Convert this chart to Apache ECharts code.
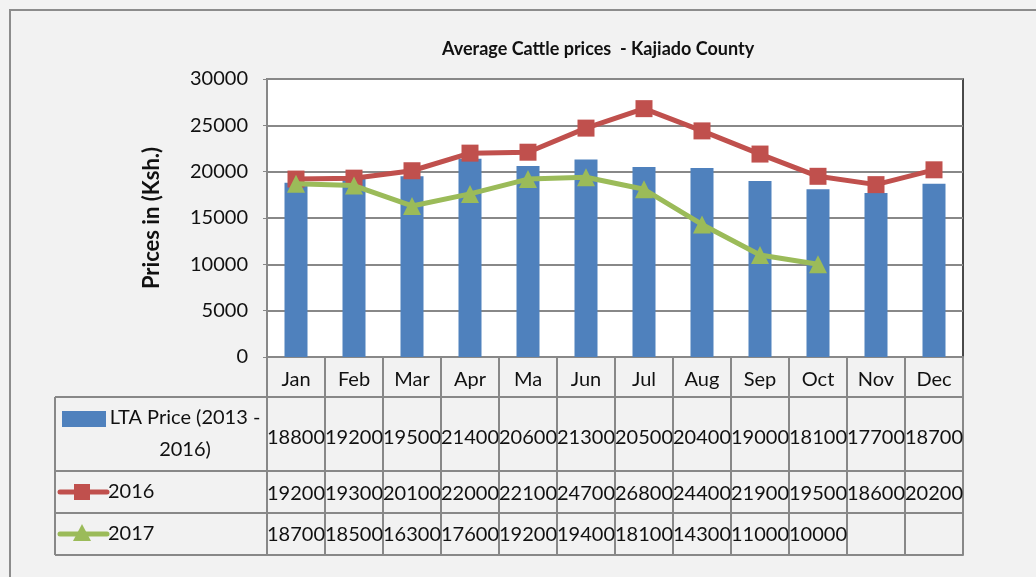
<!DOCTYPE html>
<html>
<head>
<meta charset="utf-8">
<script src="https://cdn.jsdelivr.net/npm/echarts@6/dist/echarts.min.js"></script>
<style>
  html, body { margin: 0; padding: 0; background: #fff; }
  #chart { width: 1036px; height: 577px; }
</style>
</head>
<body>
<div id="chart"></div>
<script>
const months = ['Jan', 'Feb', 'Mar', 'Apr', 'Ma', 'Jun', 'Jul', 'Aug', 'Sep', 'Oct', 'Nov', 'Dec'];
const ltaPrice = [18800, 19200, 19500, 21400, 20600, 21300, 20500, 20400, 19000, 18100, 17700, 18700];
const price2016 = [19200, 19300, 20100, 22000, 22100, 24700, 26800, 24400, 21900, 19500, 18600, 20200];
const price2017 = [18700, 18500, 16300, 17600, 19200, 19400, 18100, 14300, 11000, 10000, null, null];
const seriesNames = ['LTA Price (2013 -\n2016)', '2016', '2017'];

const FONT = 'Lato';
const GRID_LINE = '#888888';
const colors = ['#4f81bd', '#c0504d', '#9bbb59'];

const gridLeft = 267, gridTop = 79, gridW = 696, gridH = 278;
const gridBottom = gridTop + gridH;

// table rows below the plot: offset from plot bottom, row height, label margin
const headerH = 40;
const rows = [
  { values: ltaPrice, offset: 40, height: 74, margin: 31 },
  { values: price2016, offset: 114, height: 42, margin: 13 },
  { values: price2017, offset: 156, height: 42, margin: 12 }
];
const tableBottom = gridBottom + 198;
const tableLeft = 55;

function cellText(v) { return v == null ? '' : String(v); }

const xAxes = [{
  type: 'category',
  data: months,
  gridIndex: 0,
  axisLine: { show: true, lineStyle: { color: GRID_LINE, width: 2 } },
  axisTick: { show: true, alignWithLabel: false, interval: 0, length: headerH, lineStyle: { color: GRID_LINE, width: 2 } },
  axisLabel: { interval: 0, fontFamily: FONT, fontSize: 20, color: '#111', margin: 13 }
}];
rows.forEach(r => {
  xAxes.push({
    type: 'category',
    data: r.values.map(cellText),
    gridIndex: 0,
    position: 'bottom',
    offset: r.offset,
    axisLine: { show: true, lineStyle: { color: GRID_LINE, width: 2 } },
    axisTick: { show: true, alignWithLabel: false, interval: 0, length: r.height, lineStyle: { color: GRID_LINE, width: 2 } },
    axisLabel: { interval: 0, fontFamily: FONT, fontSize: 20, color: '#111', margin: r.margin }
  });
});
xAxes.push({
  type: 'category',
  data: months,
  gridIndex: 0,
  position: 'bottom',
  offset: 198,
  axisLine: { show: true, lineStyle: { color: GRID_LINE, width: 2 } },
  axisTick: { show: false },
  axisLabel: { show: false }
});

// left part of the data table (legend keys + row names)
const rowTops = [gridBottom + headerH].concat(rows.map(r => gridBottom + r.offset + r.height));
const graphics = [
  { type: 'rect', shape: { x: 10, y: 10, width: 1100, height: 700 }, style: { fill: null, stroke: '#8c8c8c', lineWidth: 2 }, z: -1 },
  { type: 'line', shape: { x1: tableLeft, y1: rowTops[0], x2: tableLeft, y2: tableBottom }, style: { stroke: GRID_LINE, lineWidth: 2 } }
];
rowTops.forEach(y => {
  graphics.push({ type: 'line', shape: { x1: tableLeft, y1: y, x2: gridLeft, y2: y }, style: { stroke: GRID_LINE, lineWidth: 2 } });
});
const rowMid = i => (rowTops[i] + rowTops[i + 1]) / 2;
// LTA key
graphics.push({ type: 'rect', shape: { x: 62, y: 411, width: 44, height: 16 }, style: { fill: colors[0] } });
graphics.push({ type: 'text', x: 185, y: rowMid(0), style: { text: seriesNames[0], fontFamily: FONT, fontSize: 20, fill: '#111', align: 'center', verticalAlign: 'middle', lineHeight: 32 } });
// 2016 key
graphics.push({ type: 'line', shape: { x1: 60, y1: rowMid(1), x2: 107, y2: rowMid(1) }, style: { stroke: colors[1], lineWidth: 5, lineCap: 'round' } });
graphics.push({ type: 'rect', shape: { x: 74, y: rowMid(1) - 8, width: 16, height: 16 }, style: { fill: colors[1] } });
graphics.push({ type: 'text', x: 108, y: rowMid(1), style: { text: seriesNames[1], fontFamily: FONT, fontSize: 20, fill: '#111', verticalAlign: 'middle' } });
// 2017 key
graphics.push({ type: 'line', shape: { x1: 60, y1: rowMid(2), x2: 107, y2: rowMid(2) }, style: { stroke: colors[2], lineWidth: 5, lineCap: 'round' } });
graphics.push({ type: 'polygon', shape: { points: [[82, rowMid(2) - 10], [73, rowMid(2) + 7], [91, rowMid(2) + 7]] }, style: { fill: colors[2] } });
graphics.push({ type: 'text', x: 108, y: rowMid(2), style: { text: seriesNames[2], fontFamily: FONT, fontSize: 20, fill: '#111', verticalAlign: 'middle' } });

const option = {
  backgroundColor: '#f2f2f2',
  animation: false,
  title: {
    text: 'Average Cattle prices  - Kajiado County',
    left: 437,
    top: 35,
    textStyle: { fontFamily: FONT, fontSize: 18, fontWeight: 'bold', color: '#111' }
  },
  grid: {
    left: gridLeft, top: gridTop, width: gridW, height: gridH,
    show: true, backgroundColor: '#fff', borderColor: '#111', borderWidth: 1.5
  },
  xAxis: xAxes,
  yAxis: {
    type: 'value',
    min: 0, max: 30000, interval: 5000,
    name: 'Prices in (Ksh.)',
    nameLocation: 'middle',
    nameRotate: 90,
    nameGap: 104,
    nameTextStyle: { fontFamily: FONT, fontSize: 22, fontWeight: 'bold', color: '#111' },
    axisLine: { show: true, lineStyle: { color: GRID_LINE, width: 2 } },
    axisTick: { show: true, length: 4, lineStyle: { color: GRID_LINE } },
    axisLabel: { fontFamily: FONT, fontSize: 20, color: '#111', margin: 19, formatter: v => String(v) },
    splitLine: { lineStyle: { color: GRID_LINE, width: 2 } }
  },
  series: [
    {
      name: seriesNames[0], type: 'bar', data: ltaPrice, barWidth: 23,
      itemStyle: { color: colors[0] }, z: 2
    },
    {
      name: seriesNames[1], type: 'line', data: price2016,
      symbol: 'rect', symbolSize: 17, showAllSymbol: true,
      lineStyle: { color: colors[1], width: 5 }, itemStyle: { color: colors[1] }, z: 3
    },
    {
      name: seriesNames[2], type: 'line', data: price2017,
      symbol: 'triangle', symbolSize: 18, showAllSymbol: true,
      lineStyle: { color: colors[2], width: 5 }, itemStyle: { color: colors[2] }, z: 4
    }
  ],
  graphic: graphics
};

const chart = echarts.init(document.getElementById('chart'), null, { renderer: 'canvas' });
chart.setOption(option);
</script>
</body>
</html>
